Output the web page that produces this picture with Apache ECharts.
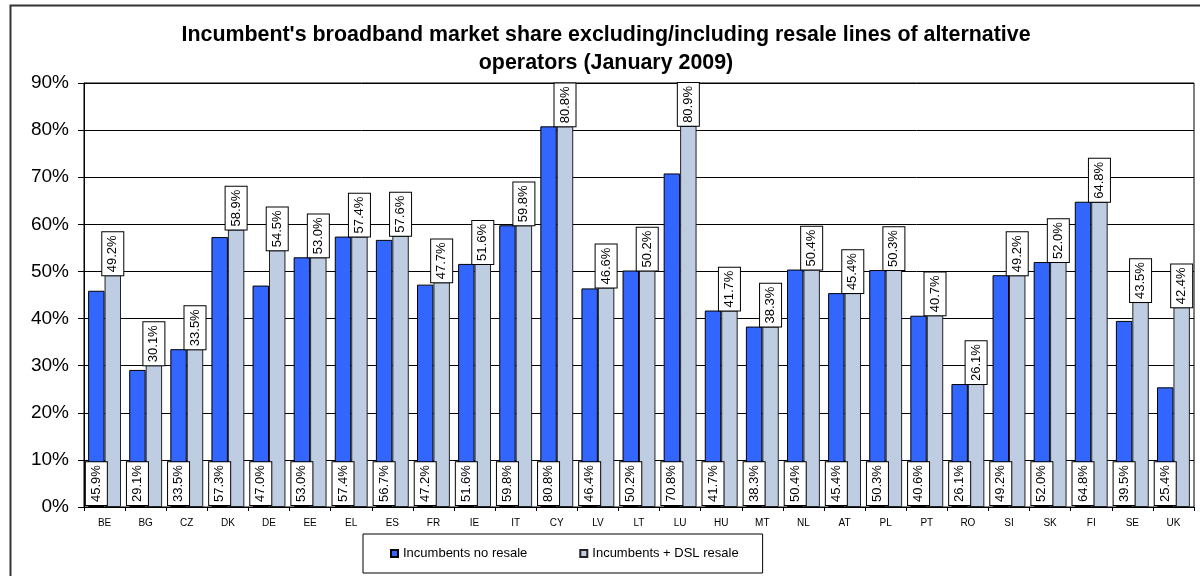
<!DOCTYPE html>
<html>
<head>
<meta charset="utf-8">
<script src="https://cdn.jsdelivr.net/npm/echarts@6/dist/echarts.min.js"></script>
<style>
  html, body { margin: 0; padding: 0; background: #fff; }
  #main { width: 1200px; height: 576px; }
</style>
</head>
<body>
<div id="main"></div>
<script>
// 国家代码
var countries = ["BE", "BG", "CZ", "DK", "DE", "EE", "EL", "ES", "FR", "IE", "IT", "CY", "LV", "LT",
  "LU", "HU", "MT", "NL", "AT", "PL", "PT", "RO", "SI", "SK", "FI", "SE", "UK"];
var noResale = [45.9, 29.1, 33.5, 57.3, 47.0, 53.0, 57.4, 56.7, 47.2, 51.6, 59.8, 80.8, 46.4, 50.2,
  70.8, 41.7, 38.3, 50.4, 45.4, 50.3, 40.6, 26.1, 49.2, 52.0, 64.8, 39.5, 25.4];
var dslResale = [49.2, 30.1, 33.5, 58.9, 54.5, 53.0, 57.4, 57.6, 47.7, 51.6, 59.8, 80.8, 46.6, 50.2,
  80.9, 41.7, 38.3, 50.4, 45.4, 50.3, 40.7, 26.1, 49.2, 52.0, 64.8, 43.5, 42.4];
var seriesNames = ["Incumbents no resale", "Incumbents + DSL resale"];
var titleText = "Incumbent's broadband market share excluding/including resale lines of alternative\noperators (January 2009)";

var font = "Liberation Sans, Arial, sans-serif";

var boxLabel = function(position, distance) {
  return {
    show: true,
    position: position,
    distance: distance,
    rotate: 90,
    align: "left",
    verticalAlign: "middle",
    fontFamily: font,
    fontSize: 13,
    lineHeight: 15,
    color: "#000",
    backgroundColor: "#fff",
    borderColor: "#000",
    borderWidth: 1,
    padding: [3, 3, 3, 3],
    formatter: function(p) {
      return p.value.toFixed(1) + "%";
    }
  };
};

var myChart = echarts.init(document.getElementById("main"));
var option = {
  animation: false,
  backgroundColor: "#fff",
  title: {
    text: titleText,
    left: 606,
    textAlign: "center",
    top: 21,
    padding: 0,
    textStyle: {
      fontFamily: font,
      fontSize: 21.4,
      fontWeight: "bold",
      lineHeight: 28,
      color: "#000"
    }
  },
  graphic: [
    {
      type: "rect",
      left: 8,
      top: 3,
      shape: { width: 1200, height: 600 },
      style: { fill: "none", stroke: "#333", lineWidth: 2 },
      silent: true
    }
  ],
  legend: {
    data: seriesNames,
    left: 363,
    top: 534,
    padding: [13, 24, 13, 27],
    itemGap: 52,
    itemWidth: 7,
    itemHeight: 7,
    icon: "rect",
    borderColor: "#000",
    borderWidth: 1,
    textStyle: { fontFamily: font, fontSize: 13, color: "#000" }
  },
  grid: {
    left: 84,
    right: 6,
    top: 83,
    bottom: 69,
    show: true,
    borderColor: "#000",
    borderWidth: 1,
    backgroundColor: "transparent"
  },
  xAxis: {
    type: "category",
    data: countries,
    axisLine: { lineStyle: { color: "#000", width: 1 } },
    axisTick: { show: true, length: 4, lineStyle: { color: "#000" } },
    axisLabel: { fontFamily: font, fontSize: 10, color: "#000", margin: 11, interval: 0 }
  },
  yAxis: {
    type: "value",
    min: 0,
    max: 90,
    interval: 10,
    axisLine: { show: true, lineStyle: { color: "#000", width: 1 } },
    axisTick: { show: true, length: 6, lineStyle: { color: "#000" } },
    axisLabel: { fontFamily: font, fontSize: 19, color: "#000", margin: 15, formatter: "{value}%" },
    splitLine: { lineStyle: { color: "#000", width: 1 } }
  },
  series: [
    {
      name: seriesNames[0],
      type: "bar",
      data: noResale,
      barGap: "0%",
      barCategoryGap: "20%",
      itemStyle: { color: "#3366FF", borderColor: "#000", borderWidth: 1 },
      label: boxLabel("insideBottom", 2)
    },
    {
      name: seriesNames[1],
      type: "bar",
      data: dslResale,
      barGap: "0%",
      barCategoryGap: "20%",
      itemStyle: { color: "#BFCDE3", borderColor: "#222", borderWidth: 1 },
      label: boxLabel("top", 0)
    }
  ]
};
myChart.setOption(option);
</script>
</body>
</html>
